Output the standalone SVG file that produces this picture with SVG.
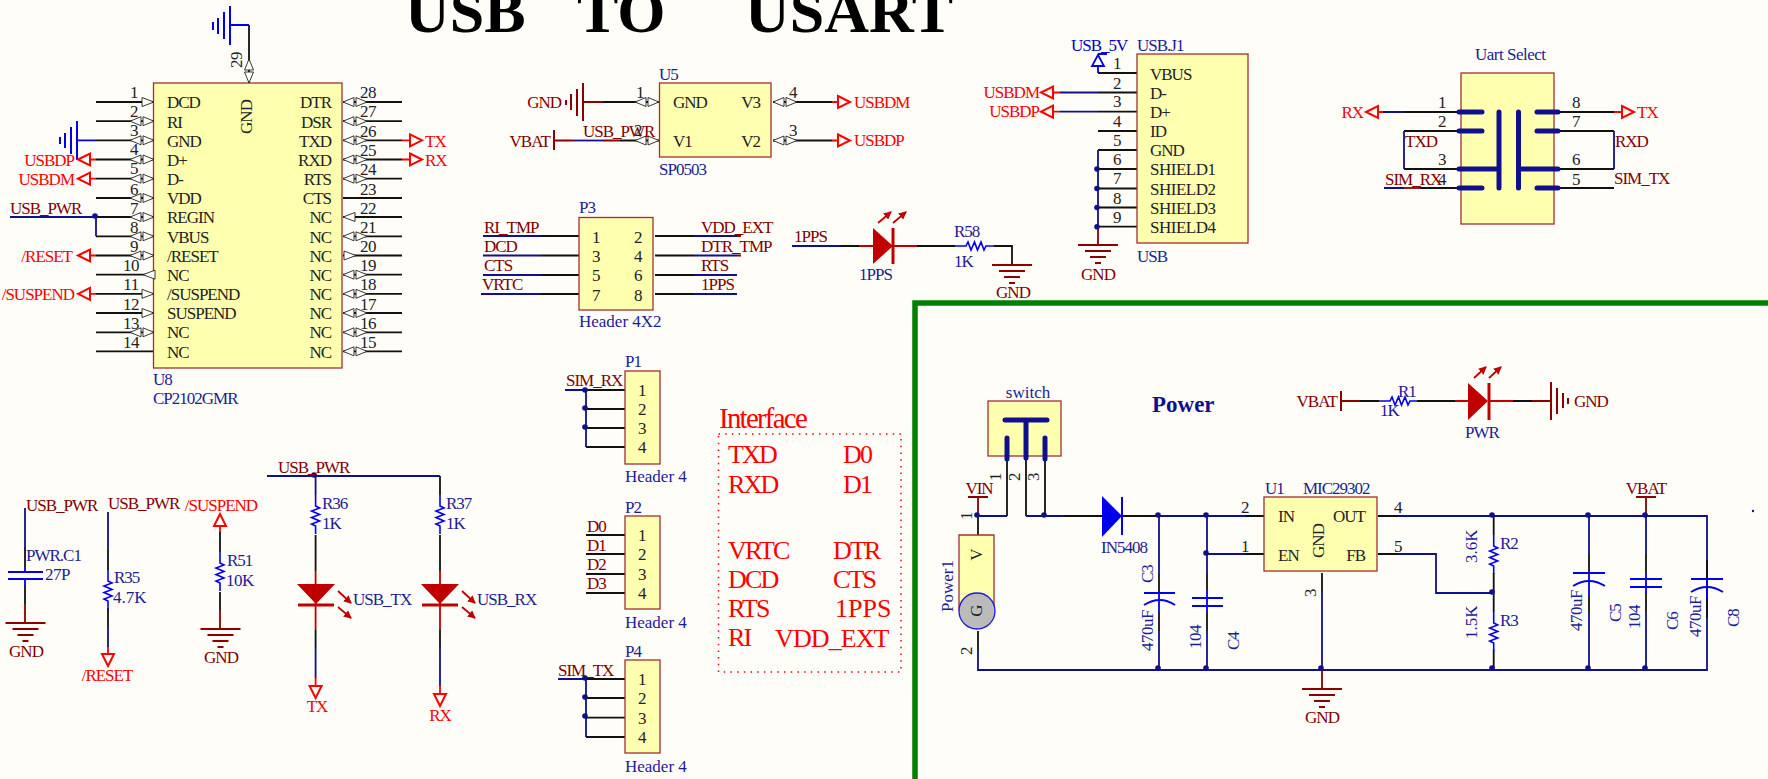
<svg xmlns="http://www.w3.org/2000/svg" width="1768" height="779" viewBox="0 0 1768 779">
<style>
text{font-family:"Liberation Serif","Times New Roman",serif;font-size:17px;letter-spacing:-1px;fill:#222}
.n{fill:#800000}.d{fill:#1c1c96}.o{fill:#f00}.pn{font-size:17px;letter-spacing:-.5px;fill:#222;text-anchor:middle}
.m{text-anchor:middle}.e{text-anchor:end}.lc{letter-spacing:0}.lt{letter-spacing:-.5px}
.i{font-size:26px;letter-spacing:-1.8px;fill:#f00}
.box{fill:#ffffb0;stroke:#a03030;stroke-width:1.3}
path,line{fill:none}
.k{stroke:#111;stroke-width:1.8}.w{stroke:#10108c;stroke-width:1.8}.dr{stroke:#8b0000;stroke-width:1.8}
.rd{stroke:#f00;stroke-width:1.8}.bl{stroke:#00e;stroke-width:1.8}.led{stroke:#c00000;stroke-width:1.8}
.tb{stroke:#10108c;stroke-width:5;stroke-linecap:round}
.pt{fill:none;stroke:#f00;stroke-width:2}
.j{fill:#10108c}
.bi{fill:#fffdf8;stroke:#222;stroke-width:.9}
.rz{stroke:#00e;stroke-width:1.6}
</style>
<defs>
<path id="bi" class="bi" d="M-12 0L-1 -4.500V4.500ZM12 0L1 -4.500V4.500Z"/>
<path id="in" class="bi" d="M-12 -4.500L0 0L-12 4.500Z"/>
<path id="ou" class="bi" d="M12 -4.500L0 0L12 4.500Z"/>
<path id="rz" class="rz" d="M0 0H11l2 -4l3 8l3.500 -8l3 8l3.500 -8l3 8l2 -4H39"/>
<path id="pl" class="pt" d="M0 0L12 -6V6Z"/>
<path id="pr" class="pt" d="M0 -6L12 0L0 6Z"/>
<path id="pu" class="pt" d="M0 0L-6 12H6Z"/>
<path id="pd" class="pt" d="M-6 0H6L0 12Z"/>
<path id="gd" class="dr" d="M-20 0H20M-13 6H13M-8 12H8M-3 18H3"/>
<marker id="la" markerUnits="userSpaceOnUse" markerWidth="8" markerHeight="8" refX="7" refY="4" orient="auto"><path d="M0 0L8 4L0 8Z" style="fill:#c00000"/></marker>
</defs>
<rect width="1768" height="779" fill="#fffdf8"/>

<g id="title">
<text x="405" y="32" style="font-size:62px;letter-spacing:0;fill:#000;font-weight:bold">USB</text>
<text x="577" y="32" style="font-size:62px;letter-spacing:0;fill:#000;font-weight:bold">TO</text>
<text x="745" y="32" style="font-size:62px;letter-spacing:0;fill:#000;font-weight:bold">USART</text>
</g>

<path id="frame" d="M915 779V303H1768" stroke="#008000" stroke-width="5.500" fill="none"/>

<g id="connectors">
<!-- U8 -->
<path class="k" d="M249 25V83M96 102H153M96 121.200H153M96 140.300H153M96 159.500H153M96 178.700H153M96 198H153M96 217H153M96 236.300H153M96 255.500H153M96 274.700H153M96 293.800H153M96 313H153M96 332.300H153M96 351.300H153"/>
<path class="k" d="M343 102H402M343 121.200H402M343 140.300H402M343 159.500H402M343 178.700H402M343 198H402M343 217H402M343 236.300H402M343 255.500H402M343 274.700H402M343 293.800H402M343 313H402M343 332.300H402M343 351.300H402"/>
<path class="bl" d="M249 25H230M96 140.300H77"/>
<path class="rd" d="M90 159.500H96M90 178.700H96M90 255.500H96M90 293.800H96M402 140.300H410M402 159.500H410"/>
<path class="w" d="M10 217H96V236.300"/>
<!-- U5 -->
<path class="k" d="M603 102H659M620 140.500H659M773 102H832M773 140.500H832"/>
<path class="dr" d="M583 102H603M554 140.500H573M603 140.500H620"/>
<path class="w" d="M573 140.500H603"/>
<path class="rd" d="M832 102H838M832 140.500H838"/>
<!-- P3 -->
<path class="w" d="M483 236H541M483 255.500H541M483 275H541M481 294H541M694 236H737M694 255.500H737M694 275H737M694 294H737"/>
<path class="k" d="M541 236H579M541 255.500H579M541 275H579M541 294H579M655 236H694M655 255.500H694M655 275H694M655 294H694"/>
<path class="dr" d="M737 236H741M737 255.500H741"/>
<!-- 1PPS -->
<path class="w" d="M792 246H841"/>
<path class="k" d="M841 246H859M917 246H955M994 246H1012V265"/>
<path class="led" d="M859 246H873M893 246H917"/>
<!-- USB J1 -->
<path class="k" d="M1098 73H1137M1098 92.500H1137M1098 111.700H1137M1098 131H1137M1098 150H1137M1098 169H1137M1098 188.500H1137M1098 207.500H1137M1098 226.700H1137"/>
<path class="w" d="M1060 92.500H1098M1060 111.700H1098M1098 150V226.700"/>
<path class="bl" d="M1098 73V66"/>
<path class="rd" d="M1053 92.500H1060M1053 111.700H1060"/>
<path class="dr" d="M1098 226.700V245"/>
<!-- Uart select -->
<path class="k" d="M1404 112H1461M1404 131H1461M1404 169H1461M1420 188H1461M1556 112H1614M1556 131H1614M1556 169H1614M1556 188H1614"/>
<path class="w" d="M1383 112H1404M1404 131V169M1384 188H1404M1614 131V169"/>
<path class="dr" d="M1404 188H1420"/>
<path class="rd" d="M1378 112H1383M1614 112H1622"/>
<!-- bottom left -->
<path class="w" d="M25 508V547M108 512V550M108 627V647"/>
<path class="k" d="M25 547V567M25 585V604M108 550V570M108 608V627M220 532V552M220 592V610"/>
<path class="bl" d="M25 567V572M25 579V585"/>
<path class="dr" d="M25 604V623M220 610V629"/>
<path class="rd" d="M108 647V654M220 526V532"/>
<path class="w" d="M267 476H440M315.600 476V495M315.600 648V678M440 648V686"/>
<path class="k" d="M440 476V495M315.600 535V571M440 535V571M315.600 630V648M440 630V648"/>
<path class="led" d="M315.600 571V630M440 571V630"/>
<path class="rd" d="M315.600 678V686M440 686V694"/>
<!-- P1 P2 P4 -->
<path class="k" d="M586 390H625M586 409H625M586 428H625M586 447H625M586 535H625M586 554H625M586 574H625M586 593H625M586 679H625M586 698H625M586 717.600H625M586 737H625"/>
<path class="w" d="M565 390H586V447M558 679H586V737"/>
<!-- power -->
<path class="w" d="M978 516H1007M1026 516H1064M1158 516H1245M1207 516V573M1207 554H1245M1159 516V573M1159 631V670M1207 631V670M978 650V670H1707V516H1398M1322 592V670"/>
<path class="k" d="M1007 456V516M1026 456V516M1045 456V516M978 516V535M978 631V650M1064 516H1102M1122 516H1158M1245 516H1264M1245 554H1264M1159 573V592M1159 612V631M1207 573V590M1207 612V631M1322 573V592M1378 516H1398M1378 554H1398"/>
<path class="dr" d="M978 497V516M1322 670V689M1646 497V516M1341 401H1360M1532 401H1551"/>
<path class="k" d="M1360 401H1379M1417 401H1455M1513 401H1532"/>
<path class="led" d="M1455 401H1468M1489 401H1513"/>
<path class="w" d="M1398 554H1436V593H1493"/>
<path class="k" d="M1493.700 516V535M1493.700 573V612M1493.700 650V670"/>
<path class="k" d="M1589 554V573M1589 595V613M1646 554V573M1646 593V612M1707 560V579M1707 599V618"/>
<path class="w" d="M1589 516V554M1589 613V670M1646 516V554M1646 612V670"/>
<path class="bl" d="M1159 592V612M1207 598V612M1207 590V598M1589 573V595M1646 573V593M1707 579V599"/>
<g class="j">
<circle cx="95" cy="216" r="2.800"/>
<circle cx="1097" cy="169" r="2.800"/><circle cx="1097" cy="188.500" r="2.800"/><circle cx="1097" cy="207.500" r="2.800"/><circle cx="1097" cy="226.700" r="2.800"/>
<circle cx="314" cy="475" r="2.800"/>
<circle cx="585" cy="390" r="2.800"/><circle cx="585" cy="408" r="2.800"/><circle cx="585" cy="427" r="2.800"/>
<circle cx="585" cy="678" r="2.800"/><circle cx="585" cy="697" r="2.800"/><circle cx="585" cy="716" r="2.800"/>
<circle cx="977" cy="515" r="2.800"/><circle cx="1044" cy="515" r="2.800"/><circle cx="1158" cy="515" r="2.800"/><circle cx="1206" cy="515" r="2.800"/><circle cx="1206" cy="553" r="2.800"/><circle cx="1158" cy="668" r="2.800"/><circle cx="1206" cy="668" r="2.800"/><circle cx="1321" cy="668" r="2.800"/>
<circle cx="1492" cy="515" r="2.800"/><circle cx="1492" cy="592" r="2.800"/><circle cx="1492" cy="668" r="2.800"/>
<circle cx="1588" cy="515" r="2.800"/><circle cx="1588" cy="668" r="2.800"/><circle cx="1645" cy="515" r="2.800"/><circle cx="1645" cy="668" r="2.800"/>
<circle cx="1753" cy="511" r="1.200"/>
</g>
</g>

<g id="U8">
<rect class="box" x="153.500" y="83" width="188.500" height="285"/>
<use href="#bi" transform="translate(249 71) rotate(90)"/>
<use href="#in" x="154" y="102"/>
<use href="#bi" x="142" y="121.200"/><use href="#bi" x="142" y="140.300"/><use href="#bi" x="142" y="159.500"/><use href="#bi" x="142" y="178.700"/><use href="#bi" x="142" y="198"/><use href="#bi" x="142" y="217"/><use href="#bi" x="142" y="236.300"/><use href="#bi" x="142" y="255.500"/>
<use href="#ou" x="143" y="274.700"/>
<use href="#in" x="154" y="293.800"/><use href="#in" x="154" y="313"/>
<use href="#bi" x="142" y="332.300"/>
<use href="#bi" x="355" y="102"/><use href="#bi" x="355" y="121.200"/><use href="#bi" x="355" y="140.300"/><use href="#bi" x="355" y="159.500"/><use href="#bi" x="355" y="178.700"/>
<use href="#ou" x="343" y="217"/>
<use href="#bi" x="355" y="236.300"/>
<use href="#in" x="356" y="255.500"/>
<use href="#bi" x="355" y="274.700"/><use href="#bi" x="355" y="293.800"/><use href="#bi" x="355" y="313"/><use href="#bi" x="355" y="332.300"/><use href="#bi" x="355" y="351.300"/>
<g>
<text class="pn" x="134" y="98">1</text><text class="pn" x="134" y="117">2</text><text class="pn" x="134" y="136">3</text><text class="pn" x="134" y="155">4</text><text class="pn" x="134" y="174">5</text><text class="pn" x="134" y="195">6</text><text class="pn" x="134" y="214">7</text><text class="pn" x="134" y="233">8</text><text class="pn" x="134" y="252">9</text><text class="pn" x="131" y="271">10</text><text class="pn" x="131" y="290">11</text><text class="pn" x="131" y="310">12</text><text class="pn" x="131" y="329">13</text><text class="pn" x="131" y="348">14</text>
<text class="pn" x="368" y="98">28</text><text class="pn" x="368" y="117">27</text><text class="pn" x="368" y="137">26</text><text class="pn" x="368" y="156">25</text><text class="pn" x="368" y="175">24</text><text class="pn" x="368" y="195">23</text><text class="pn" x="368" y="214">22</text><text class="pn" x="368" y="233">21</text><text class="pn" x="368" y="252">20</text><text class="pn" x="368" y="271">19</text><text class="pn" x="368" y="290">18</text><text class="pn" x="368" y="310">17</text><text class="pn" x="368" y="329">16</text><text class="pn" x="368" y="348">15</text>
<text class="pn" transform="translate(242 60) rotate(-90)">29</text>
</g>
<text x="167" y="108">DCD</text><text x="167" y="128">RI</text><text x="167" y="147">GND</text><text x="167" y="166">D+</text><text x="167" y="185">D-</text><text x="167" y="204">VDD</text><text x="167" y="223">REGIN</text><text x="167" y="243">VBUS</text><text x="167" y="262">/RESET</text><text x="167" y="281">NC</text><text x="167" y="300">/SUSPEND</text><text x="167" y="319">SUSPEND</text><text x="167" y="338">NC</text><text x="167" y="358">NC</text>
<g><text class="e" x="331" y="108">DTR</text><text class="e" x="331" y="128">DSR</text><text class="e" x="331" y="147">TXD</text><text class="e" x="331" y="166">RXD</text><text class="e" x="331" y="185">RTS</text><text class="e" x="331" y="204">CTS</text><text class="e" x="331" y="223">NC</text><text class="e" x="331" y="243">NC</text><text class="e" x="331" y="262">NC</text><text class="e" x="331" y="281">NC</text><text class="e" x="331" y="300">NC</text><text class="e" x="331" y="319">NC</text><text class="e" x="331" y="338">NC</text><text class="e" x="331" y="358">NC</text></g>
<text class="m" transform="translate(252 117) rotate(-90)">GND</text>
<text class="d" x="153" y="385">U8</text><text class="d" x="153" y="404">CP2102GMR</text>
</g>

<g id="U8-ports">
<path class="bl" d="M230 6V45M224 12V39M218 18V34M213 22V30M77 121V160M71 127V154M65 133V148M60 137V144" style="stroke-width:2"/>
<use href="#pl" x="78" y="159.500"/><text class="o e" x="74" y="166">USBDP</text>
<use href="#pl" x="78" y="178.700"/><text class="o e" x="74" y="185">USBDM</text>
<use href="#pl" x="78" y="255.500"/><text class="o e" x="72" y="262">/RESET</text>
<use href="#pl" x="78" y="293.800"/><text class="o e" x="74" y="300">/SUSPEND</text>
<use href="#pr" x="410" y="140.300"/><text class="o" x="425" y="147">TX</text>
<use href="#pr" x="410" y="159.500"/><text class="o" x="425" y="166">RX</text>
<text class="n" x="10" y="214">USB_PWR</text>
</g>

<g id="U5">
<rect class="box" x="659.500" y="83" width="111.500" height="74"/>
<use href="#bi" x="647" y="102"/><use href="#bi" x="647" y="140.500"/><use href="#bi" x="785" y="102"/><use href="#bi" x="785" y="140.500"/>
<text class="pn" x="640" y="98">1</text><text class="pn" x="638" y="136">2</text><text class="pn" x="793" y="98">4</text><text class="pn" x="793" y="136">3</text>
<text x="673" y="108">GND</text><text x="673" y="147">V1</text><text class="e" x="760" y="108">V3</text><text class="e" x="760" y="147">V2</text>
<text class="d" x="659" y="80">U5</text><text class="d" x="659" y="175">SP0503</text>
<path class="dr" d="M583 83V121M577 89V116M571 94V110M566 100V105M554 130V150" style="stroke-width:2"/>
<text class="n e" x="561" y="108">GND</text><text class="n e" x="550" y="147">VBAT</text><text class="n" x="583" y="137">USB_PWR</text>
<use href="#pr" x="838" y="102"/><text class="o" x="854" y="108">USBDM</text>
<use href="#pr" x="838" y="140.500"/><text class="o" x="854" y="146">USBDP</text>
</g>

<g id="P3">
<rect class="box" x="579" y="217.500" width="74" height="92.500"/>
<text class="pn" x="596" y="243">1</text><text class="pn" x="596" y="262">3</text><text class="pn" x="596" y="281">5</text><text class="pn" x="596" y="301">7</text>
<text class="pn" x="638" y="243">2</text><text class="pn" x="638" y="262">4</text><text class="pn" x="638" y="281">6</text><text class="pn" x="638" y="301">8</text>
<text class="d" x="579" y="213">P3</text><text class="d lc" x="579" y="327">Header 4X2</text>
<text class="n" x="484" y="233">RI_TMP</text><text class="n" x="484" y="252">DCD</text><text class="n" x="484" y="271">CTS</text><text class="n" x="482" y="290">VRTC</text>
<text class="n" x="701" y="233">VDD_EXT</text><text class="n" x="701" y="252">DTR_TMP</text><text class="n" x="701" y="271">RTS</text><text class="n" x="701" y="290">1PPS</text>
</g>

<g id="LED-1PPS">
<path d="M873 228L893 246L873 264Z" style="fill:#c00000"/>
<path class="led" d="M893 228V264" style="stroke-width:3"/>
<path class="led" d="M878 223L891 212" marker-end="url(#la)"/><path class="led" d="M893 223L906 212" marker-end="url(#la)"/>
<text class="n" x="794" y="242">1PPS</text><text class="d" x="859" y="280">1PPS</text>
</g>
<g id="R58">
<use href="#rz" x="955" y="246"/>
<text class="d" x="954" y="237">R58</text><text class="d" x="954" y="267">1K</text>
<use href="#gd" x="1012" y="265"/><text class="n m" x="1013" y="298">GND</text>
</g>

<g id="USB-J1">
<rect class="box" x="1137" y="54" width="111" height="189"/>
<text class="pn" x="1117" y="69">1</text><text class="pn" x="1117" y="89">2</text><text class="pn" x="1117" y="107">3</text><text class="pn" x="1117" y="127">4</text><text class="pn" x="1117" y="146">5</text><text class="pn" x="1117" y="165">6</text><text class="pn" x="1117" y="184">7</text><text class="pn" x="1117" y="204">8</text><text class="pn" x="1117" y="223">9</text>
<text x="1150" y="80">VBUS</text><text x="1150" y="99">D-</text><text x="1150" y="118">D+</text><text x="1150" y="137">ID</text><text x="1150" y="156">GND</text><text class="lt" x="1150" y="175">SHIELD1</text><text class="lt" x="1150" y="195">SHIELD2</text><text class="lt" x="1150" y="214">SHIELD3</text><text class="lt" x="1150" y="233">SHIELD4</text>
<text class="d" x="1137" y="51">USB.J1</text><text class="d" x="1137" y="262">USB</text>
<path d="M1098 55L1092 66H1104ZM1098 54H1107" style="stroke:#00e;stroke-width:1.800;fill:none"/>
<text class="d" x="1071" y="51" style="fill:#0000c8">USB_5V</text>
<use href="#pl" x="1041" y="92.500"/><text class="o e" x="1039" y="98">USBDM</text>
<use href="#pl" x="1041" y="111.700"/><text class="o e" x="1039" y="117">USBDP</text>
<use href="#gd" x="1098" y="245"/><text class="n m" x="1098" y="280">GND</text>
</g>

<g id="Uart-Select">
<rect class="box" x="1461" y="73" width="93" height="151"/>
<path class="tb" d="M1459 112H1482M1459 131H1482M1459 169H1499M1459 188H1482M1537 112H1558M1537 131H1558M1518.500 169H1558M1537 188H1558M1499 112V188M1518.500 112V188"/>
<text class="pn" x="1442" y="108">1</text><text class="pn" x="1442" y="127">2</text><text class="pn" x="1442" y="165">3</text><text class="pn" x="1442" y="185">4</text>
<text class="pn" x="1576" y="108">8</text><text class="pn" x="1576" y="127">7</text><text class="pn" x="1576" y="165">6</text><text class="pn" x="1576" y="185">5</text>
<text class="d lt" x="1475" y="60">Uart Select</text>
<use href="#pl" x="1366" y="112"/><text class="o e" x="1363" y="118">RX</text>
<use href="#pr" x="1622" y="112"/><text class="o" x="1637" y="118">TX</text>
<text class="n" x="1405" y="147">TXD</text><text class="n" x="1615" y="147">RXD</text><text class="n" x="1385" y="185">SIM_RX</text><text class="n" x="1614" y="184">SIM_TX</text>
</g>

<g id="PWR-C1">
<path class="bl" d="M8 572H43M8 579H43" style="stroke-width:2"/>
<text class="n" x="26" y="511">USB_PWR</text><text class="d" x="26" y="561">PWR.C1</text><text class="d lt" x="45" y="580">27P</text>
<use href="#gd" x="25.500" y="623"/><text class="n m" x="26" y="657">GND</text>
</g>
<g id="R35">
<use href="#rz" transform="translate(108 570) rotate(90)"/>
<text class="n" x="108" y="509">USB_PWR</text><text class="d" x="114" y="583">R35</text><text class="d lc" x="113" y="603">4.7K</text>
<use href="#pd" x="108" y="654"/><text class="o m" x="107" y="681">/RESET</text>
</g>
<g id="R51">
<use href="#rz" transform="translate(220 552) rotate(90)"/>
<use href="#pu" x="220" y="514"/><text class="o m" x="221" y="511">/SUSPEND</text>
<text class="d" x="227" y="566">R51</text><text class="d lt" x="226" y="586">10K</text>
<use href="#gd" x="220.500" y="629"/><text class="n m" x="221" y="663">GND</text>
</g>
<g id="LED-TX">
<text class="n" x="278" y="473">USB_PWR</text>
<use href="#rz" transform="translate(315.600 495) rotate(90)"/>
<text class="d" x="322" y="509">R36</text><text class="d" x="322" y="529">1K</text>
<path d="M297 584H335L316 604Z" style="fill:#c00000"/><path class="led" d="M298 605H334" style="stroke-width:3"/>
<path class="led" d="M338 591L351 603" marker-end="url(#la)"/><path class="led" d="M338 607L351 618" marker-end="url(#la)"/>
<text class="d" x="353" y="605">USB_TX</text>
<use href="#pd" x="315.600" y="686"/><text class="o m" x="317" y="712">TX</text>
</g>
<g id="LED-RX">
<use href="#rz" transform="translate(440 495) rotate(90)"/>
<text class="d" x="446" y="509">R37</text><text class="d" x="446" y="529">1K</text>
<path d="M421 584H459L440 604Z" style="fill:#c00000"/><path class="led" d="M422 605H458" style="stroke-width:3"/>
<path class="led" d="M462 591L475 603" marker-end="url(#la)"/><path class="led" d="M462 607L475 618" marker-end="url(#la)"/>
<text class="d" x="477" y="605">USB_RX</text>
<use href="#pd" x="440" y="694"/><text class="o m" x="440" y="721">RX</text>
</g>

<g id="P1">
<rect class="box" x="625" y="371" width="35" height="93"/>
<text class="pn" x="642" y="396">1</text><text class="pn" x="642" y="415">2</text><text class="pn" x="642" y="434">3</text><text class="pn" x="642" y="453">4</text>
<text class="d" x="625" y="367">P1</text><text class="d lc" x="625" y="482">Header 4</text><text class="n" x="566" y="386">SIM_RX</text>
</g>
<g id="P2">
<rect class="box" x="625" y="516" width="35" height="93"/>
<text class="pn" x="642" y="541">1</text><text class="pn" x="642" y="560">2</text><text class="pn" x="642" y="580">3</text><text class="pn" x="642" y="599">4</text>
<text class="d" x="625" y="513">P2</text><text class="d lc" x="625" y="628">Header 4</text>
<text class="n" x="587" y="532">D0</text><text class="n" x="587" y="551">D1</text><text class="n" x="587" y="570">D2</text><text class="n" x="587" y="589">D3</text>
</g>
<g id="P4">
<rect class="box" x="625" y="660" width="35" height="93"/>
<text class="pn" x="642" y="685">1</text><text class="pn" x="642" y="704">2</text><text class="pn" x="642" y="724">3</text><text class="pn" x="642" y="743">4</text>
<text class="d" x="625" y="657">P4</text><text class="d lc" x="625" y="772">Header 4</text><text class="n" x="558" y="676">SIM_TX</text>
</g>

<g id="Interface">
<rect x="718.500" y="434" width="182.500" height="238" fill="none" stroke="#f00" stroke-width="1.500" stroke-dasharray="1.500 5.200"/>
<text class="i" x="719" y="428" textLength="87" lengthAdjust="spacingAndGlyphs" style="font-size:30px">Interface</text>
<text class="i" x="728" y="463">TXD</text><text class="i" x="843" y="463">D0</text>
<text class="i" x="728" y="493">RXD</text><text class="i" x="843" y="493">D1</text>
<text class="i" x="728" y="559">VRTC</text><text class="i" x="833" y="559">DTR</text>
<text class="i" x="728" y="588">DCD</text><text class="i" x="833" y="588">CTS</text>
<text class="i" x="728" y="617">RTS</text><text class="i" x="835" y="617" style="letter-spacing:0">1PPS</text>
<text class="i" x="728" y="646">RI</text><text class="i" x="775" y="647" style="letter-spacing:-.9px">VDD_EXT</text>
</g>

<g id="switch">
<rect class="box" x="988" y="401" width="73" height="55"/>
<path class="tb" d="M1005 420H1047M1026 420V458M1007 438V459M1045 438V459"/>
<text class="d m lc" x="1028" y="398">switch</text>
<text class="pn" transform="translate(1001 477) rotate(-90)">1</text><text class="pn" transform="translate(1020 477) rotate(-90)">2</text><text class="pn" transform="translate(1039 477) rotate(-90)">3</text>
</g>
<text id="power-title" x="1152" y="412" style="font-size:23px;letter-spacing:0;font-weight:bold;fill:#10108c">Power</text>
<g id="Power1">
<path class="box" d="M959 611V535H994V611"/>
<circle cx="977" cy="611" r="18" fill="#bbb" stroke="#1c1ce0" stroke-width="1.300"/>
<text class="m" transform="translate(982 555) rotate(-90)">V</text><text class="m" transform="translate(982 611) rotate(-90)">G</text>
<text class="d lc" transform="translate(953 612) rotate(-90)">Power1</text>
<text class="pn" transform="translate(972 516) rotate(-90)">1</text><text class="pn" transform="translate(972 651) rotate(-90)">2</text>
<path class="dr" d="M968 497H988" style="stroke-width:2"/><text class="n m" x="979" y="494">VIN</text>
</g>
<g id="D-IN5408">
<path d="M1102 496L1122 516L1102 537Z" style="fill:#00e"/><path class="bl" d="M1122 497V535" style="stroke-width:2"/>
<text class="d" x="1101" y="553">IN5408</text>
</g>
<g id="C3">
<path class="bl" d="M1144 593H1175M1144 605Q1160 595 1175 605" style="stroke-width:2"/>
<text class="d" transform="translate(1153 583) rotate(-90)">C3</text><text class="d lt" transform="translate(1153 651) rotate(-90)">470uF</text>
</g>
<g id="C4">
<path class="bl" d="M1192 598H1223M1192 606H1223" style="stroke-width:2"/>
<text class="d lt" transform="translate(1201 649) rotate(-90)">104</text><text class="d" transform="translate(1239 650) rotate(-90)">C4</text>
</g>
<g id="U1">
<rect class="box" x="1264" y="497" width="113" height="74"/>
<text x="1278" y="522">IN</text><text x="1278" y="561">EN</text><text class="e" x="1365" y="522">OUT</text><text class="e" x="1365" y="561">FB</text>
<text class="m" transform="translate(1324 541) rotate(-90)">GND</text>
<text class="d" x="1265" y="494">U1</text><text class="d" x="1303" y="494">MIC29302</text>
<text class="pn" x="1245" y="513">2</text><text class="pn" x="1245" y="552">1</text><text class="pn" x="1398" y="513">4</text><text class="pn" x="1398" y="552">5</text>
<text class="pn" transform="translate(1316 593) rotate(-90)">3</text>
<use href="#gd" x="1322" y="689"/><text class="n m" x="1322" y="723">GND</text>
</g>
<g id="R2">
<use href="#rz" transform="translate(1493.700 535) rotate(90)"/>
<text class="d" x="1500" y="549">R2</text><text class="d lc" transform="translate(1477 563) rotate(-90)">3.6K</text>
</g>
<g id="R3">
<use href="#rz" transform="translate(1493.700 612) rotate(90)"/>
<text class="d" x="1500" y="626">R3</text><text class="d lc" transform="translate(1477 639) rotate(-90)">1.5K</text>
</g>
<g id="C5">
<path class="bl" d="M1573 573H1605M1573 586Q1589 576 1605 586" style="stroke-width:2"/>
<text class="d lt" transform="translate(1582 631) rotate(-90)">470uF</text><text class="d" transform="translate(1621 622) rotate(-90)">C5</text>
</g>
<g id="C6">
<path class="bl" d="M1630 579H1662M1630 587H1662" style="stroke-width:2"/>
<text class="d lt" transform="translate(1640 629) rotate(-90)">104</text><text class="d" transform="translate(1678 630) rotate(-90)">C6</text>
<path class="dr" d="M1636 497H1656" style="stroke-width:2"/><text class="n m" x="1646" y="494">VBAT</text>
</g>
<g id="C8">
<path class="bl" d="M1691 579H1723M1691 592Q1707 582 1723 592" style="stroke-width:2"/>
<text class="d lt" transform="translate(1701 637) rotate(-90)">470uF</text><text class="d" transform="translate(1739 627) rotate(-90)">C8</text>
</g>
<g id="PWR-LED">
<path class="dr" d="M1341 391V411M1551 382V420M1557 388V414M1563 393V408M1568 398V404" style="stroke-width:2"/>
<text class="n e" x="1337" y="407">VBAT</text><text class="n" x="1574" y="407">GND</text>
<use href="#rz" x="1379" y="401"/>
<text class="d" x="1398" y="397">R1</text><text class="d" x="1380" y="416">1K</text>
<path d="M1468 383L1488 401L1468 420Z" style="fill:#c00000"/><path class="led" d="M1489 383V420" style="stroke-width:3"/>
<path class="led" d="M1474 378L1486 367" marker-end="url(#la)"/><path class="led" d="M1489 378L1501 367" marker-end="url(#la)"/>
<text class="d" x="1465" y="438">PWR</text>
</g>
</svg>
